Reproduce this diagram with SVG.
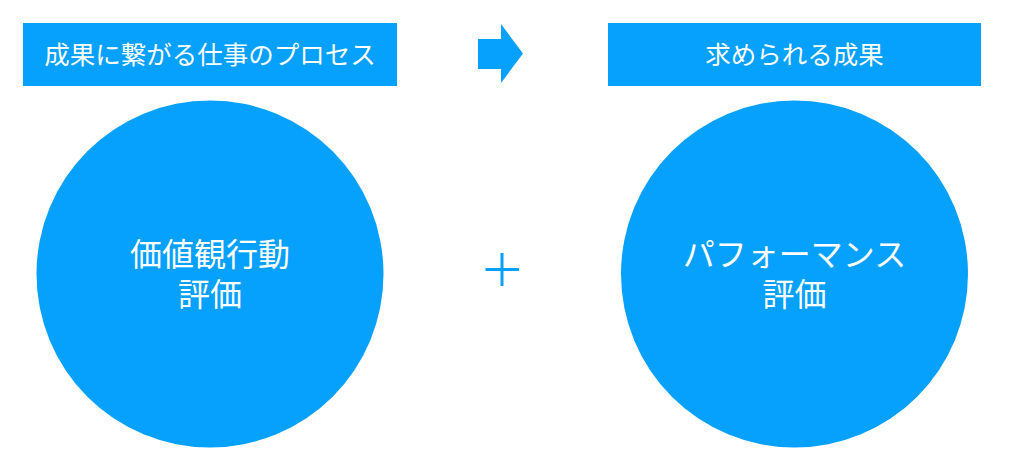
<svg xmlns="http://www.w3.org/2000/svg" width="1026" height="452" viewBox="0 0 1026 452">
<style>
.fill{fill:#06a0fd}
.hdr{font-family:"Noto Sans CJK JP","Noto Sans",sans-serif;font-size:25.5px;fill:#ffffff;text-anchor:middle}
.lbl{font-family:"Noto Sans CJK JP","Noto Sans",sans-serif;font-size:32px;fill:#ffffff;text-anchor:middle}
</style>
<rect width="1026" height="452" fill="#ffffff"/>
<g id="header-left">
<rect class="fill" x="23" y="23" width="374" height="63"/>
<text class="hdr" x="210" y="63.5">成果に繋がる仕事のプロセス</text>
</g>
<g id="header-right">
<rect class="fill" x="608" y="23" width="373" height="63"/>
<text class="hdr" x="794.5" y="63.5">求められる成果</text>
</g>
<g id="connectors">
<polygon class="fill" points="478,39 501,39 501,24 523,53.5 501,83 501,69 478,69"/>
<g stroke="#06a0fd" stroke-width="3" fill="none">
<line x1="485.5" y1="269.5" x2="519" y2="269.5"/>
<line x1="502" y1="253" x2="502" y2="286"/>
</g>
</g>
<g id="circle-left">
<circle class="fill" cx="210" cy="274" r="173.5"/>
<text class="lbl" x="210" y="266">価値観行動<tspan x="210" y="306">評価</tspan></text>
</g>
<g id="circle-right">
<circle class="fill" cx="794.5" cy="274" r="173.5"/>
<text class="lbl" x="794.5" y="266">パフォーマンス<tspan x="794.5" y="306">評価</tspan></text>
</g>
</svg>
